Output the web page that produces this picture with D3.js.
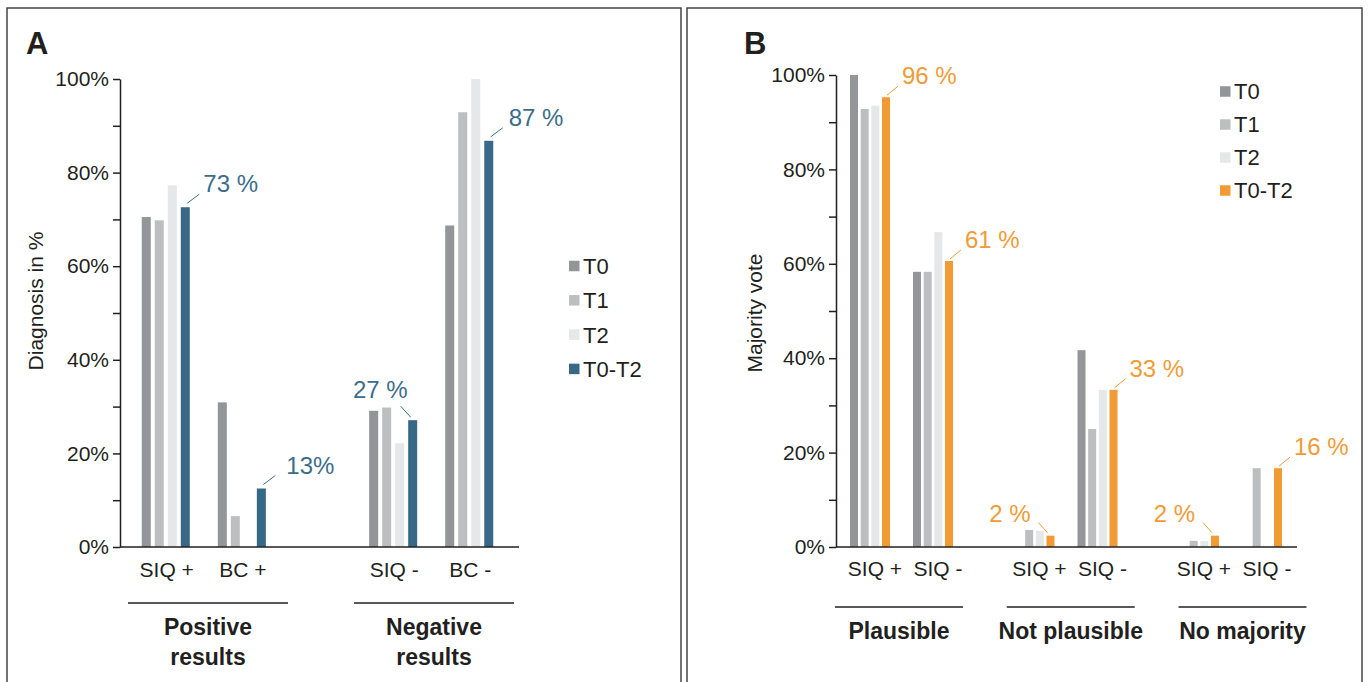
<!DOCTYPE html>
<html>
<head>
<meta charset="utf-8">
<script src="https://cdn.jsdelivr.net/npm/d3@7"></script>
<style>
  body { margin: 0; background: #fff; }
  text { font-family: "Liberation Sans", Arial, sans-serif; fill: #231f20; }
</style>
</head>
<body>
<script>
// series shared by both panels
var series = ["T0", "T1", "T2", "T0-T2"];
var greys = ["#939598", "#bcbec0", "#e6e7e8"];

// Panel A - diagnosis
var catsA = ["SIQ +", "BC +", "SIQ -", "BC -"];
var catGroupA = [0, 0, 1, 1];
var groupsA = ["Positive results", "Negative results"];
var valsA_T0 = [70.5, 30.9, 29.1, 68.7];
var valsA_T1 = [69.8, 6.6, 29.8, 92.9];
var valsA_T2 = [77.3, 0, 22.2, 100];
var valsA_T0T2 = [72.6, 12.5, 27.1, 86.8];
var annoA = ["73 %", "13%", "27 %", "87 %"];
var annoSideA = ["r", "r", "l", "r"];

// Panel B - majority vote
var catsB = ["SIQ +", "SIQ -", "SIQ +", "SIQ -", "SIQ +", "SIQ -"];
var catGroupB = [0, 0, 1, 1, 2, 2];
var groupsB = ["Plausible", "Not plausible", "No majority"];
var valsB_T0 = [100, 58.3, 0, 41.7, 0, 0];
var valsB_T1 = [92.8, 58.3, 3.6, 25.0, 1.3, 16.7];
var valsB_T2 = [93.5, 66.7, 3.4, 33.3, 1.3, 0];
var valsB_T0T2 = [95.3, 60.6, 2.4, 33.3, 2.4, 16.7];
var annoB = ["96 %", "61 %", "2 %", "33 %", "2 %", "16 %"];
var annoSideB = ["r", "r", "l", "r", "l", "r"];

var yTicks = [0, 10, 20, 30, 40, 50, 60, 70, 80, 90, 100];

var svg = d3.select("body").append("svg")
    .attr("width", 1369)
    .attr("height", 682);

// panel frames
svg.append("rect").attr("x", 7).attr("y", 8).attr("width", 674).attr("height", 690)
    .attr("fill", "none").attr("stroke", "#444").attr("stroke-width", 1.5);
svg.append("rect").attr("x", 687).attr("y", 8).attr("width", 675).attr("height", 690)
    .attr("fill", "none").attr("stroke", "#444").attr("stroke-width", 1.5);

function drawPanel(o) {
    var g = svg.append("g");
    var colors = greys.concat([o.accent]);
    var vals = o.values;

    var y = d3.scaleLinear().domain([0, 100]).range([547, o.yTop]);

    var xGroup = d3.scaleBand().domain(o.groups)
        .range([o.x0, o.x1]).paddingInner(o.padIn).paddingOuter(o.padOut);
    var xCat = d3.scaleBand().domain([0, 1]).range([0, xGroup.bandwidth()]);
    var xSer = d3.scaleBand().domain(series).range([0, xCat.bandwidth()])
        .paddingInner(o.serPadIn).paddingOuter(o.serPadOut);

    function catLeft(i) {
        var gi = o.catGroup[i];
        var first = o.catGroup.indexOf(gi);
        return xGroup(o.groups[gi]) + xCat(i - first);
    }

    // bars
    series.forEach(function(s, si) {
        g.append("g").selectAll("rect")
            .data(vals[si])
            .enter()
            .append("rect")
            .attr("x", function(d, i) { return catLeft(i) + xSer(s); })
            .attr("y", function(d) { return y(d); })
            .attr("width", xSer.bandwidth())
            .attr("height", function(d) { return y(0) - y(d); })
            .attr("fill", colors[si]);
    });

    // y axis
    var yAxis = d3.axisLeft(y).tickValues(yTicks).tickSize(7).tickSizeOuter(0).tickPadding(4)
        .tickFormat(function(d) { return d % 20 === 0 ? d + "%" : ""; });
    var ya = g.append("g").attr("transform", "translate(" + o.x0 + ",0)").call(yAxis);
    ya.selectAll("text").style("font-size", "21px").attr("fill", "#231f20");
    ya.selectAll("line, path").attr("stroke", "#231f20").attr("stroke-width", 1.5);

    // baseline
    g.append("line")
        .attr("x1", o.x0).attr("x2", o.axisEnd)
        .attr("y1", y(0)).attr("y2", y(0))
        .attr("stroke", "#231f20").attr("stroke-width", 1.5);

    // category labels
    g.append("g").selectAll("text")
        .data(o.cats)
        .enter()
        .append("text")
        .attr("x", function(d, i) { return catLeft(i) + xCat.bandwidth() / 2 + o.catDx; })
        .attr("y", o.catY)
        .attr("text-anchor", "middle")
        .style("font-size", "21px")
        .text(function(d) { return d; });

    // group lines + bold labels
    var xLab = d3.scalePoint().domain(o.groups).range(o.groupLabelRange);
    o.groups.forEach(function(name) {
        var cx = xLab(name);
        g.append("line")
            .attr("x1", cx - o.lineHalf).attr("x2", cx + o.lineHalf)
            .attr("y1", o.lineY).attr("y2", o.lineY)
            .attr("stroke", "#231f20").attr("stroke-width", 1.5);
        var lines = o.wrap ? name.split(" ") : [name];
        lines.forEach(function(t, k) {
            g.append("text")
                .attr("x", cx).attr("y", o.groupY + k * 30)
                .attr("text-anchor", "middle")
                .style("font-size", "23px").style("font-weight", "bold")
                .text(t);
        });
    });

    // annotations on the T0-T2 bars
    var last = series.length - 1;
    o.anno.forEach(function(t, i) {
        var cx = catLeft(i) + xSer(series[last]) + xSer.bandwidth() / 2;
        var ty = y(vals[last][i]);
        var st = o.annoStyle[o.annoSide[i]];
        g.append("line")
            .attr("x1", cx + st.l[0]).attr("y1", ty + st.l[1])
            .attr("x2", cx + st.l[2]).attr("y2", ty + st.l[3])
            .attr("stroke", o.annoColor).attr("stroke-width", 1);
        g.append("text")
            .attr("x", cx + st.t[0] + (o.annoShift[i] || 0)).attr("y", ty + st.t[1])
            .attr("text-anchor", o.annoSide[i] === "r" ? "start" : "end")
            .style("font-size", "24px")
            .style("fill", o.annoColor)
            .text(t);
    });

    // legend
    series.forEach(function(s, si) {
        var ly = o.legY + si * o.legStep;
        g.append("rect")
            .attr("x", o.legX).attr("y", ly - 5.25)
            .attr("width", 10.5).attr("height", 10.5)
            .attr("fill", colors[si]);
        g.append("text")
            .attr("x", o.legX + 14).attr("y", ly)
            .attr("dy", "0.36em")
            .style("font-size", "22px")
            .text(s);
    });

    // axis title
    g.append("text")
        .attr("transform", "translate(" + o.yLabX + "," + o.yLabY + ") rotate(-90)")
        .attr("text-anchor", "middle")
        .style("font-size", "21px")
        .text(o.yLabel);

    // panel letter
    g.append("text")
        .attr("x", o.letterX).attr("y", 54)
        .style("font-size", "31px").style("font-weight", "bold")
        .text(o.letter);
}

drawPanel({
    letter: "A", letterX: 26,
    x0: 120, x1: 515, axisEnd: 519, yTop: 79,
    padIn: 0.331, padOut: 0.034, serPadIn: 0.3077, serPadOut: 1.077,
    groups: groupsA, cats: catsA, catGroup: catGroupA,
    values: [valsA_T0, valsA_T1, valsA_T2, valsA_T0T2],
    accent: "#376886", annoColor: "#3b6d8c",
    anno: annoA, annoSide: annoSideA, annoShift: [0, 7, 0, 2],
    annoStyle: {
        r: { l: [2, -4, 14, -13], t: [18, -15] },
        l: { l: [-2, -3, -12, -14], t: [-5, -22] }
    },
    catY: 577, catDx: 1,
    groupLabelRange: [208, 434], lineHalf: 80, lineY: 603, groupY: 635, wrap: true,
    legX: 569, legY: 266, legStep: 34.3,
    yLabel: "Diagnosis in %", yLabX: 43, yLabY: 301
});

drawPanel({
    letter: "B", letterX: 744,
    x0: 836, x1: 1296, axisEnd: 1297, yTop: 75,
    padIn: 0.234, padOut: 0.0152, serPadIn: 0.25, serPadOut: 1.078,
    groups: groupsB, cats: catsB, catGroup: catGroupB,
    values: [valsB_T0, valsB_T1, valsB_T2, valsB_T0T2],
    accent: "#f29b35", annoColor: "#f29b35",
    anno: annoB, annoSide: annoSideB, annoShift: [],
    annoStyle: {
        r: { l: [1, -2, 12, -11], t: [16, -13] },
        l: { l: [-3, -3, -12, -13], t: [-20, -14] }
    },
    catY: 576, catDx: 5,
    groupLabelRange: [899, 1242.5], lineHalf: 64, lineY: 607, groupY: 639, wrap: false,
    legX: 1220, legY: 91.5, legStep: 33,
    yLabel: "Majority vote", yLabX: 762, yLabY: 313
});
</script>
</body>
</html>
